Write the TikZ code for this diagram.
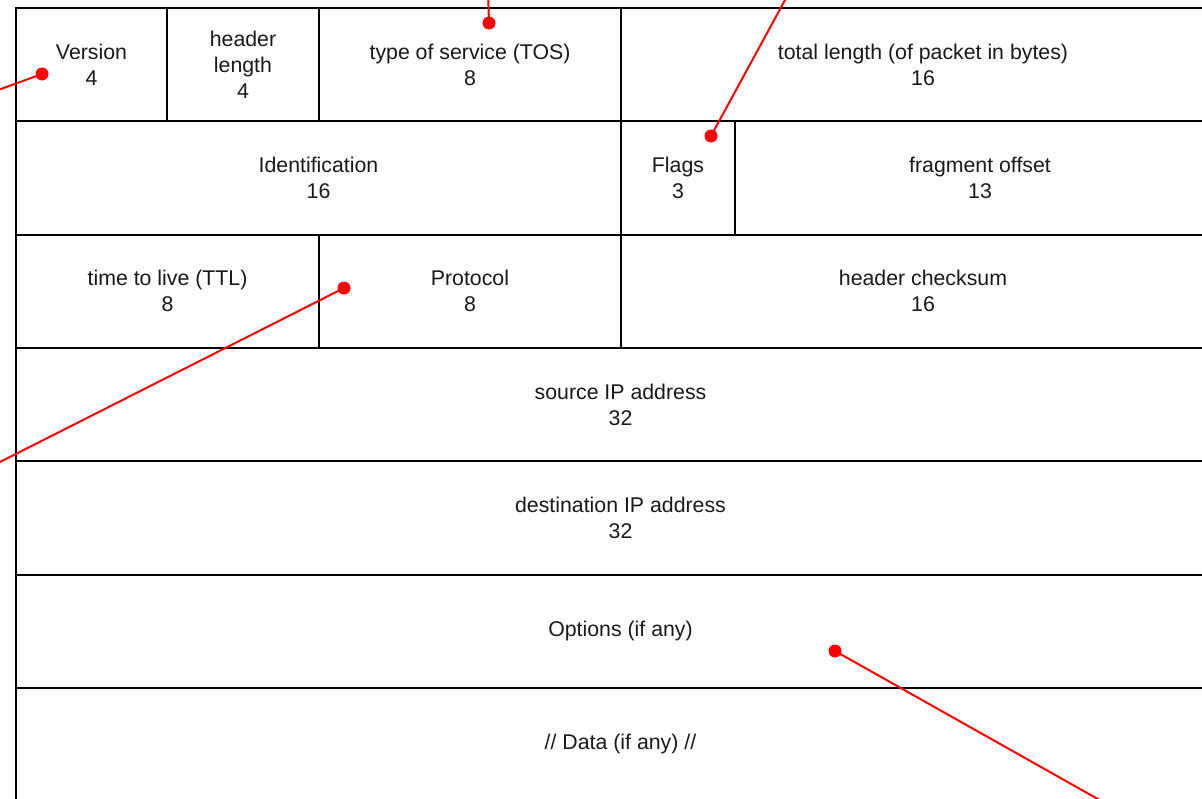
\documentclass[tikz,border=0pt]{standalone}
\usepackage{fontspec}
\setmainfont{Liberation Sans}
\begin{document}
\begin{tikzpicture}[x=1pt,y=-1pt,
  field/.style={draw=black, line width=2pt, rectangle, inner sep=0pt, outer sep=0pt,
    anchor=north west, align=center, minimum height=113.3pt,
    font=\fontsize{21.3}{26}\selectfont, text=black!90},
  pin/.style={circle, fill=red, inner sep=0pt, minimum size=13pt},
  lead/.style={draw=red, line width=2pt}]
\useasboundingbox (0,0) rectangle (1202,798);
\clip (0,0) rectangle (1202,798);

% row 1
\node[field, minimum width=151pt] (version) at (16,8) {Version\\4};
\node[field, minimum width=152pt] (hlen) at (167,8) {header\\length\\4};
\node[field, minimum width=302pt] (tos) at (319,8) {type of service (TOS)\\8};
\node[field, minimum width=604pt] (totlen) at (621,8) {total length (of packet in bytes)\\16};
% row 2
\node[field, minimum width=605pt] (ident) at (16,121.3) {Identification\\16};
\node[field, minimum width=114pt] (flags) at (621,121.3) {Flags\\3};
\node[field, minimum width=490pt] (frag) at (735,121.3) {fragment offset\\13};
% row 3
\node[field, minimum width=303pt] (ttl) at (16,234.6) {time to live (TTL)\\8};
\node[field, minimum width=302pt] (proto) at (319,234.6) {Protocol\\8};
\node[field, minimum width=604pt] (cksum) at (621,234.6) {header checksum\\16};
% full-width rows
\node[field, minimum width=1209pt] (src) at (16,347.9) {source IP address\\32};
\node[field, minimum width=1209pt] (dst) at (16,461.2) {destination IP address\\32};
\node[field, minimum width=1209pt] (opts) at (16,574.5) {Options (if any)};
\node[field, minimum width=1209pt] (data) at (16,687.8) {// Data (if any) //};

% callout pins
\node[pin] (pver) at (42,74) {};
\node[pin] (ptos) at (489,23) {};
\node[pin] (pflags) at (711,136) {};
\node[pin] (pproto) at (344,288) {};
\node[pin] (popts) at (835,651) {};

\coordinate (ever) at (-20,96.6);
\coordinate (etos) at (488,-10);
\coordinate (eflags) at (790.5,-10);
\coordinate (eproto) at (-20,472.1);
\coordinate (eopts) at (1120,811.5);

\draw[lead] (pver.center) -- (ever);
\draw[lead] (ptos.center) -- (etos);
\draw[lead] (pflags.center) -- (eflags);
\draw[lead] (pproto.center) -- (eproto);
\draw[lead] (popts.center) -- (eopts);
\end{tikzpicture}
\end{document}
